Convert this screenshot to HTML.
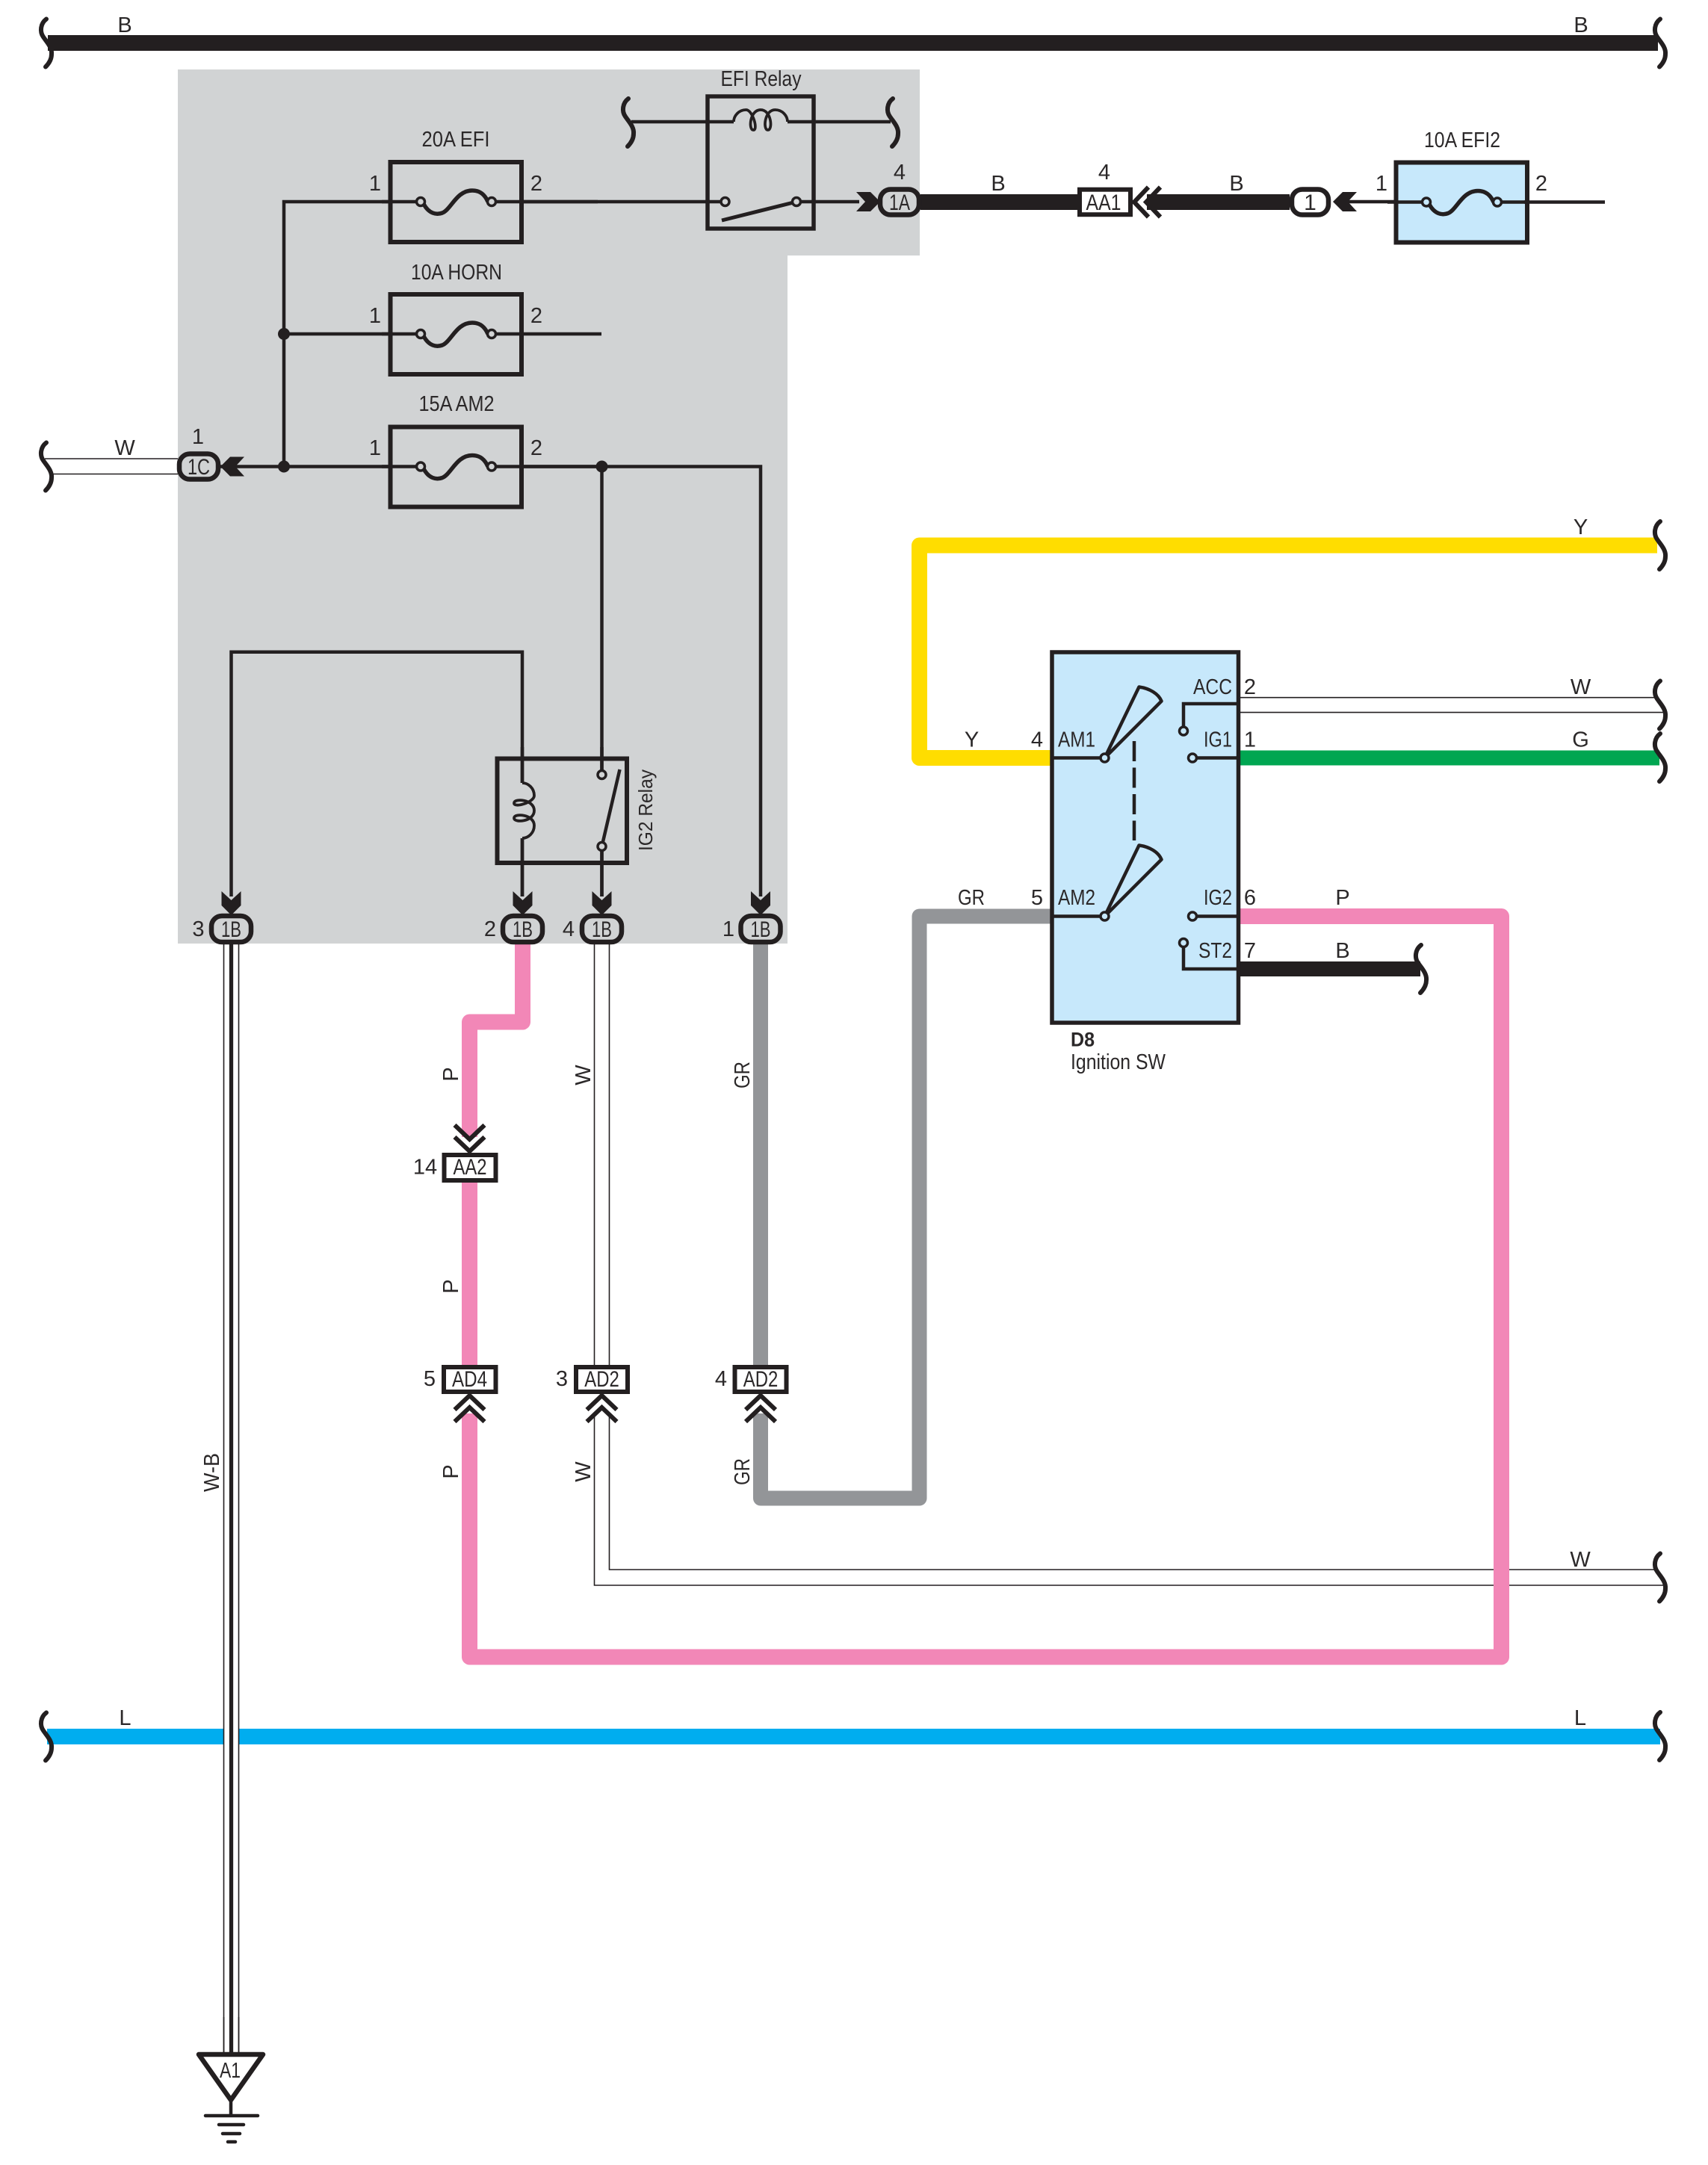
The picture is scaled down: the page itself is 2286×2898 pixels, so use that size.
<!DOCTYPE html>
<html><head><meta charset="utf-8"><style>
html,body{margin:0;padding:0;background:#fff}
svg{display:block}
text{font-family:"Liberation Sans",sans-serif;font-size:29px;fill:#2b2829;text-anchor:middle}
.cn{font-size:30px}
.w{fill:none;stroke-linejoin:round;stroke-linecap:butt}
.t{fill:none;stroke:#231f20;stroke-width:4.5;stroke-linejoin:miter}
.h{fill:none;stroke:#231f20;stroke-width:1.6}
.b{fill:none;stroke:#231f20;stroke-width:6;stroke-linecap:round}
.c{fill:none;stroke:#231f20;stroke-width:6}
.o{stroke:#231f20;stroke-width:3.5}
.k{stroke:#231f20;stroke-width:6.5}
</style></head><body>
<svg xmlns="http://www.w3.org/2000/svg" width="2286" height="2898" viewBox="0 0 2286 2898">
<defs>
<path id="br" class="b" d="M0,-32 C-8,-26 -9,-15 -4,-8 C0,-2 8,6 7,15 C7,22 3,28 -1,32"/>
<polygon id="ar" fill="#231f20" points="0,0 -13,13 -32,13 -20,0 -32,-13 -13,-13"/>
<g id="chev"><polyline class="c" points="-20,19 0,0 20,19"/><polyline class="c" points="-20,35 0,16 20,35"/></g>
<g id="fuse">
<rect x="1.500" y="-53" width="175.500" height="107" stroke="#231f20" stroke-width="6"/>
<path class="t" d="M-10,0 H37 M142,0 H178"/>
<path d="M46,3 C53,16 63,18 71,15 C83,10 90,-15 111,-15 C122,-15 128,-9 132,0" fill="none" stroke="#231f20" stroke-width="5.500"/>
<circle cx="42" cy="0" r="5.500" class="o"/><circle cx="137" cy="0" r="5.500" class="o"/>
</g>
<path id="coil" fill="none" stroke="#231f20" stroke-width="3.800" d="M0,0 C8,0 16,7 16,17 C16,26 -11,34 -11,27 C-11,20 16,22 16,37 C16,52 -11,54 -11,47 C-11,40 16,42 16,57 C16,67 8,74 0,74"/>
<g id="wedge"><path d="M0,0 L46,-95 C60,-93 72,-86 76,-76 Z" fill="none" stroke="#231f20" stroke-width="4.500" stroke-linejoin="round"/><circle cx="0" cy="0" r="5.500" fill="#c7e8fb" class="o"/></g>
</defs>

<!-- panel -->
<polygon points="238,93 1231,93 1231,342 1054,342 1054,1263 238,1263" fill="#d1d3d4"/>

<!-- top bus -->
<rect x="64" y="47" width="2155" height="21" fill="#231f20"/>
<use href="#br" x="62" y="57.500"/><use href="#br" x="2222" y="57.500"/>
<text x="167" y="43">B</text><text x="2116" y="43">B</text>

<!-- thick wires -->
<path class="w" stroke="#ffdd00" stroke-width="21" d="M2218,730 H1230.500 V1014.500 H1406"/>
<path class="w" stroke="#00a651" stroke-width="20" d="M1658,1014.500 H2221"/>
<path class="w" stroke="#231f20" stroke-width="20" d="M1658,1297 H1901"/>
<path class="w" stroke="#231f20" stroke-width="21" d="M1232,270.500 H1442 M1535,270.500 H1726"/>
<path class="w" stroke="#939598" stroke-width="20" d="M1018,1263 V1827 M1018,1892 V2005.500 H1230.500 V1226.500 H1406"/>
<path class="w" stroke="#f287b7" stroke-width="21" d="M699.500,1263 V1368 H628.500 V1522 M628.500,1583 V1827"/>

<!-- L wire + W-B crossing -->
<rect x="63" y="2314" width="2159" height="21" fill="#00adef"/>
<rect x="299" y="1263" width="20" height="1485" fill="#fff"/>
<path class="h" d="M299.500,1263 V2748 M319.500,1263 V2748"/>
<line x1="309.500" y1="1263" x2="309.500" y2="2748" stroke="#231f20" stroke-width="5.300"/>
<use href="#br" x="62" y="2324.500"/><use href="#br" x="2222" y="2324"/>
<text x="167.500" y="2309">L</text><text x="2115" y="2309">L</text>

<!-- thin double wires -->
<path class="h" d="M60,614 H238 M69,634.500 H238"/>
<path class="h" d="M1658,933.700 H2218 M1658,953.600 H2228"/>
<path class="h" d="M795.500,1263 V1827 M815.500,1263 V1827"/>
<path class="h" d="M795.500,1894 V2122 H2226 M815.500,1894 V2101 H2216"/>
<!-- pink over W -->
<path class="w" stroke="#f287b7" stroke-width="21" d="M628.500,1892 V2218 H2009.500 V1226.500 H1658"/>

<!-- brackets right -->
<use href="#br" x="62" y="624.500"/>
<use href="#br" x="2222" y="730"/>
<use href="#br" x="2222" y="943.500"/>
<use href="#br" x="2222" y="1014"/>
<use href="#br" x="1902" y="1297"/>
<use href="#br" x="2222" y="2111.500"/>

<!-- thin black wires in panel -->
<path class="t" d="M520,270 H380 V624.500 M380,447 H520 M295,624.500 H520 M700,624.500 H1018 V1200 M805.500,624.500 V1037 M805.500,1133 V1200"/>
<path class="t" d="M700,270 H965 M1072,270 H1150"/>
<path class="t" d="M309.500,1200 V872.700 H699 V1048 M699,1122 V1200"/>
<circle cx="380" cy="447" r="8" fill="#231f20"/><circle cx="380" cy="624.500" r="8" fill="#231f20"/><circle cx="805.500" cy="624.500" r="8" fill="#231f20"/>

<!-- fuses -->
<use href="#fuse" x="521" y="270" fill="#d1d3d4"/>
<use href="#fuse" x="521" y="447" fill="#d1d3d4"/>
<use href="#fuse" x="521" y="624.500" fill="#d1d3d4"/>
<path class="t" d="M695,447 H805 M695,624.500 H805 M695,270 H800"/>
<text x="610" y="196" textLength="91" lengthAdjust="spacingAndGlyphs">20A EFI</text>
<text x="611" y="374" textLength="122" lengthAdjust="spacingAndGlyphs">10A HORN</text>
<text x="611" y="550" textLength="101" lengthAdjust="spacingAndGlyphs">15A AM2</text>
<text x="502" y="255">1</text><text x="718" y="255">2</text>
<text x="502" y="432">1</text><text x="718" y="432">2</text>
<text x="502" y="609">1</text><text x="718" y="609">2</text>

<!-- EFI relay -->
<rect x="947" y="129" width="142" height="177" fill="none" stroke="#231f20" stroke-width="5.500"/>
<path class="t" d="M845,163 H982 M1054,163 H1192"/>
<use href="#coil" transform="matrix(0,-1,0.973,0,982,163)"/>
<use href="#br" x="841" y="164"/><use href="#br" x="1195" y="164"/>
<line x1="966" y1="295" x2="1066" y2="270" stroke="#231f20" stroke-width="5"/>
<circle cx="970.500" cy="270" r="5.500" fill="#d1d3d4" class="o"/><circle cx="1066" cy="270" r="5.500" fill="#d1d3d4" class="o"/>
<text x="1018.500" y="115" textLength="108" lengthAdjust="spacingAndGlyphs">EFI Relay</text>

<!-- IG2 relay -->
<rect x="665.500" y="1015.500" width="173.500" height="139.500" fill="none" stroke="#231f20" stroke-width="6"/>
<path class="t" d="M699,1000 V1048 M699,1122 V1200 M805.500,1000 V1037 M805.500,1133 V1200"/>
<use href="#coil" x="699" y="1048"/>
<line x1="829.500" y1="1030" x2="805.500" y2="1133" stroke="#231f20" stroke-width="4.500"/>
<circle cx="805.500" cy="1037" r="5.500" fill="#d1d3d4" class="o"/><circle cx="805.500" cy="1133" r="5.500" fill="#d1d3d4" class="o"/>
<text transform="translate(873,1084.500) rotate(-90)" style="font-size:26px" textLength="109" lengthAdjust="spacingAndGlyphs">IG2 Relay</text>

<!-- 1x connectors -->
<use href="#ar" transform="translate(295,624.500) rotate(180)"/>
<rect x="240" y="607.500" width="52" height="34" rx="14" fill="#d1d3d4" class="k"/>
<text class="cn" x="266" y="635" textLength="30" lengthAdjust="spacingAndGlyphs">1C</text>
<text x="265" y="594">1</text><text x="167" y="609">W</text>

<use href="#ar" transform="translate(1178,270)"/>
<rect x="1178" y="253.500" width="52" height="34" rx="14" fill="#d1d3d4" class="k"/>
<text class="cn" x="1204" y="281" textLength="28" lengthAdjust="spacingAndGlyphs">1A</text>
<text x="1204" y="240">4</text>
<text x="1336" y="255">B</text>

<rect x="1445" y="253.700" width="68" height="33.500" fill="#fff" stroke="#231f20" stroke-width="6"/>
<text class="cn" x="1477" y="281" textLength="47" lengthAdjust="spacingAndGlyphs">AA1</text>
<text x="1478" y="240">4</text>
<use href="#chev" transform="translate(1518,270.500) rotate(-90)"/>
<text x="1655" y="255">B</text>

<rect x="1729" y="253.500" width="49" height="34" rx="14" fill="#fff" class="k"/>
<text class="cn" x="1753.500" y="281">1</text>

<!-- EFI2 -->
<line class="t" x1="1790" y1="270" x2="1870" y2="270"/>
<use href="#ar" transform="translate(1784,270) rotate(180)"/>
<use href="#fuse" x="1867" y="270.500" fill="#c7e8fb"/>
<line class="t" x1="2040" y1="270.500" x2="2148" y2="270.500"/>
<text x="1957" y="197" textLength="102" lengthAdjust="spacingAndGlyphs">10A EFI2</text>
<text x="1849" y="255">1</text><text x="2063" y="255">2</text>

<!-- 1B connectors -->
<use href="#ar" transform="translate(309.500,1225) rotate(90)"/>
<use href="#ar" transform="translate(699.500,1225) rotate(90)"/>
<use href="#ar" transform="translate(805.500,1225) rotate(90)"/>
<use href="#ar" transform="translate(1018,1225) rotate(90)"/>
<rect x="283" y="1226" width="53" height="35" rx="14" fill="#d1d3d4" class="k"/>
<rect x="673" y="1226" width="53" height="35" rx="14" fill="#d1d3d4" class="k"/>
<rect x="779" y="1226" width="53" height="35" rx="14" fill="#d1d3d4" class="k"/>
<rect x="991.500" y="1226" width="53" height="35" rx="14" fill="#d1d3d4" class="k"/>
<text class="cn" x="309.500" y="1254" textLength="27" lengthAdjust="spacingAndGlyphs">1B</text>
<text class="cn" x="699.500" y="1254" textLength="27" lengthAdjust="spacingAndGlyphs">1B</text>
<text class="cn" x="805.500" y="1254" textLength="27" lengthAdjust="spacingAndGlyphs">1B</text>
<text class="cn" x="1018" y="1254" textLength="27" lengthAdjust="spacingAndGlyphs">1B</text>
<text x="265.500" y="1253">3</text><text x="656" y="1253">2</text><text x="761" y="1253">4</text><text x="975" y="1253">1</text>

<!-- inline connectors -->
<rect x="594.500" y="1546" width="69" height="34" fill="#fff" stroke="#231f20" stroke-width="6"/>
<text class="cn" x="629" y="1572" textLength="45" lengthAdjust="spacingAndGlyphs">AA2</text>
<text x="569" y="1571.500">14</text>
<use href="#chev" transform="translate(628.500,1541) rotate(180)"/>

<rect x="594" y="1830" width="69.500" height="33" fill="#fff" stroke="#231f20" stroke-width="6"/>
<text class="cn" x="628.500" y="1856" textLength="47" lengthAdjust="spacingAndGlyphs">AD4</text>
<text x="575" y="1855">5</text>
<use href="#chev" x="628.500" y="1868"/>

<rect x="771" y="1830" width="69" height="33" fill="#fff" stroke="#231f20" stroke-width="6"/>
<text class="cn" x="805.500" y="1856" textLength="46.500" lengthAdjust="spacingAndGlyphs">AD2</text>
<text x="752" y="1855">3</text>
<use href="#chev" x="805.500" y="1868"/>

<rect x="983.500" y="1830" width="69" height="33" fill="#fff" stroke="#231f20" stroke-width="6"/>
<text class="cn" x="1018" y="1856" textLength="46.500" lengthAdjust="spacingAndGlyphs">AD2</text>
<text x="965" y="1855">4</text>
<use href="#chev" x="1018" y="1868"/>

<!-- rotated labels -->
<text transform="translate(613,1438) rotate(-90)">P</text>
<text transform="translate(613,1722) rotate(-90)">P</text>
<text transform="translate(613,1970) rotate(-90)">P</text>
<text transform="translate(790,1439) rotate(-90)">W</text>
<text transform="translate(790,1970) rotate(-90)">W</text>
<text transform="translate(1003,1439) rotate(-90)" textLength="36" lengthAdjust="spacingAndGlyphs">GR</text>
<text transform="translate(1003,1970) rotate(-90)" textLength="36" lengthAdjust="spacingAndGlyphs">GR</text>
<text transform="translate(293,1971) rotate(-90)" textLength="52" lengthAdjust="spacingAndGlyphs">W-B</text>
<text x="2115" y="2097">W</text>

<!-- ignition switch -->
<rect x="1408" y="873" width="249.500" height="496" fill="#c7e8fb" stroke="#231f20" stroke-width="5.500"/>
<path class="t" d="M1406,1014.500 H1478 M1406,1226.500 H1478"/>
<use href="#wedge" x="1478.500" y="1014.500"/>
<use href="#wedge" x="1478.500" y="1226.500"/>
<line x1="1518" y1="992" x2="1518" y2="1125" stroke="#231f20" stroke-width="4.500" stroke-dasharray="27 8.500"/>
<path class="t" d="M1658,942 H1584 V975"/>
<path class="t" d="M1600,1014.500 H1658"/>
<path class="t" d="M1600,1226.500 H1658"/>
<path class="t" d="M1584,1266 V1297 H1658"/>
<circle cx="1584" cy="978.500" r="5.500" fill="#c7e8fb" class="o"/>
<circle cx="1596" cy="1014.500" r="5.500" fill="#c7e8fb" class="o"/>
<circle cx="1596" cy="1226.500" r="5.500" fill="#c7e8fb" class="o"/>
<circle cx="1584" cy="1262" r="5.500" fill="#c7e8fb" class="o"/>
<text x="1441" y="999.500" textLength="50" lengthAdjust="spacingAndGlyphs">AM1</text>
<text x="1441" y="1211" textLength="50" lengthAdjust="spacingAndGlyphs">AM2</text>
<text x="1623" y="929" textLength="52" lengthAdjust="spacingAndGlyphs">ACC</text>
<text x="1630" y="999.500" textLength="38" lengthAdjust="spacingAndGlyphs">IG1</text>
<text x="1630" y="1211" textLength="38" lengthAdjust="spacingAndGlyphs">IG2</text>
<text x="1626.500" y="1282" textLength="45" lengthAdjust="spacingAndGlyphs">ST2</text>
<text x="1673" y="929">2</text><text x="1673" y="999.500">1</text><text x="1673" y="1211">6</text><text x="1673" y="1282">7</text>
<text x="1388" y="999.500">4</text><text x="1388" y="1211">5</text>
<text x="1300.500" y="999.500">Y</text><text x="1300" y="1211" textLength="36" lengthAdjust="spacingAndGlyphs">GR</text>
<text x="2115.500" y="715">Y</text><text x="2115.500" y="929">W</text><text x="2115.500" y="999.500">G</text>
<text x="1797" y="1211">P</text><text x="1797" y="1282">B</text>
<text x="1433" y="1400.500" style="text-anchor:start;font-weight:bold;font-size:27px" textLength="32" lengthAdjust="spacingAndGlyphs">D8</text>
<text x="1433" y="1431" style="text-anchor:start" textLength="127" lengthAdjust="spacingAndGlyphs">Ignition SW</text>

<!-- ground -->
<polygon points="266,2750 352,2750 309,2811" fill="#fff" stroke="#231f20" stroke-width="6.500" stroke-linejoin="round"/>
<path class="h" d="M299.500,2700 V2748 M319.500,2700 V2748"/>
<line x1="309" y1="2811" x2="309" y2="2832" stroke="#231f20" stroke-width="4.500"/>
<path d="M275,2832 H345 M293,2844 H326 M298,2856 H321 M305,2867 H315" stroke="#231f20" stroke-width="4.500" stroke-linecap="round" fill="none"/>
<text x="308" y="2781" textLength="28" lengthAdjust="spacingAndGlyphs">A1</text>
</svg>
</body></html>
